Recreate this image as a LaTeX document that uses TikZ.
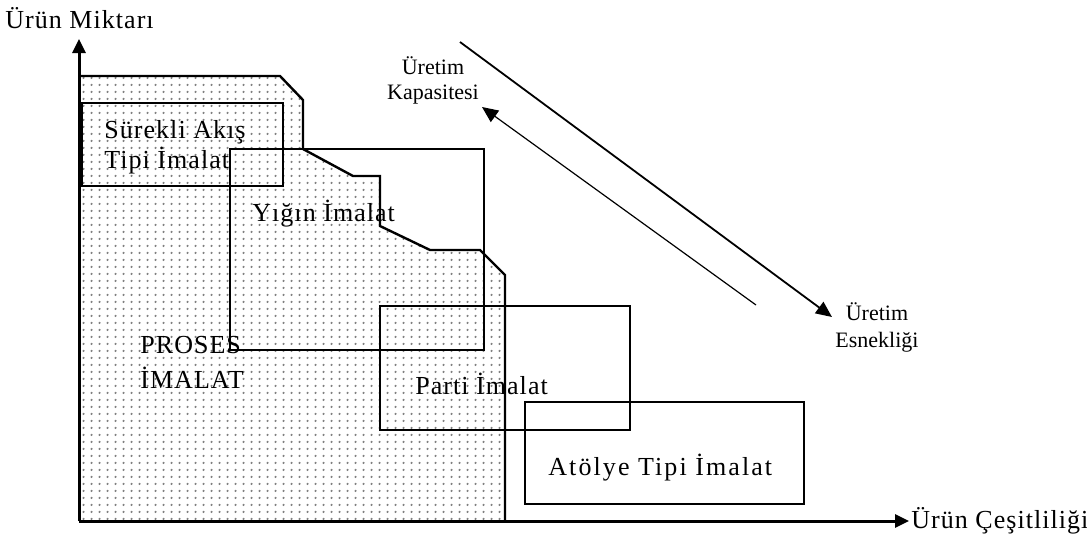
\documentclass[tikz,border=0pt]{standalone}
\usepackage{fontspec}
\setmainfont{Liberation Serif}
\newfontfamily\widefont[LetterSpace=4]{Liberation Serif}
\newfontfamily\widerfont[LetterSpace=8]{Liberation Serif}
\usetikzlibrary{arrows.meta,patterns}

% grey dot raster for the shaded area
\pgfdeclarepatternformonly{pixdots}{\pgfpointorigin}{\pgfqpoint{4pt}{3.5pt}}{\pgfqpoint{4pt}{3.5pt}}{%
  \pgfpathcircle{\pgfqpoint{2pt}{1.75pt}}{0.7pt}\pgfusepath{fill}}

\begin{document}
\begin{tikzpicture}[
  x=0.5pt, y=-0.5pt,
  frame/.style={draw, line width=1.2pt},
  shade/.style={pattern=pixdots, pattern color=black!50},
  lbl/.style={font=\widefont\fontsize{13}{15}\selectfont, anchor=west, inner sep=0pt, align=left},
  note/.style={font=\fontsize{11}{12.5}\selectfont, inner sep=0pt, align=center},
  axis/.style={line width=1.5pt, -{Triangle[length=7pt,width=6.5pt]}},
  trend/.style={-{Triangle[length=8pt,width=7pt]}}
]
\useasboundingbox (0,0) rectangle (1087,542);

% --- Shaded region ---
\path[shade] (79,76) -- (280,76) -- (303,100) -- (303,149) -- (353,176) -- (380,176)
  -- (380,226) -- (430,250) -- (480,250) -- (505,275) -- (505,521) -- (79,521) -- cycle;
\draw[line width=1.2pt] (79,76) -- (280,76) -- (303,100) -- (303,149) -- (353,176) -- (380,176)
  -- (380,226) -- (430,250) -- (480,250) -- (505,275) -- (505,521);

% --- Boxes ---
\draw[frame] (82,103) rectangle (283,186);
\draw[frame] (230,149) rectangle (484,350);
\draw[frame] (380,306) rectangle (630,430);
\draw[frame] (525,402) rectangle (804,504);

% --- Labels ---
\node[lbl] (surekli) at (104,147) {Sürekli Akış\\Tipi İmalat};
\node[lbl] (yigin) at (252,214) {Yığın İmalat};
\node[lbl, font=\widefont\fontsize{13}{17.5}\selectfont] (proses) at (140,362) {PROSES\\İMALAT};
\node[lbl] (parti) at (415,384) {Parti İmalat};
\node[lbl, font=\widerfont\fontsize{13}{15}\selectfont] (atolye) at (548,468) {Atölye Tipi İmalat};

% --- Axes ---
\coordinate (origin) at (79,521);
\coordinate (ytip) at (79,39);
\coordinate (xtip) at (909,521);
\draw[axis] (origin) -- (ytip);
\draw[axis] (origin) -- (xtip);
\node[lbl] (ylabel) at (5,18) {Ürün Miktarı};
\node[lbl] (xlabel) at ([xshift=1pt]xtip) {Ürün Çeşitliliği};

% --- Trend arrows ---
\coordinate (esnekStart) at (460,42);
\coordinate (esnekTip) at (832,317);
\coordinate (kapStart) at (756,305);
\coordinate (kapTip) at (482,107);
\draw[trend, line width=0.9pt] (esnekStart) -- (esnekTip);
\draw[trend, line width=0.6pt] (kapStart) -- (kapTip);
\node[note] (kapasite) at (433,80) {Üretim\\Kapasitesi};
\node[note, font=\fontsize{11}{13.5}\selectfont] (esneklik) at (877,327) {Üretim\\Esnekliği};

\end{tikzpicture}
\end{document}
